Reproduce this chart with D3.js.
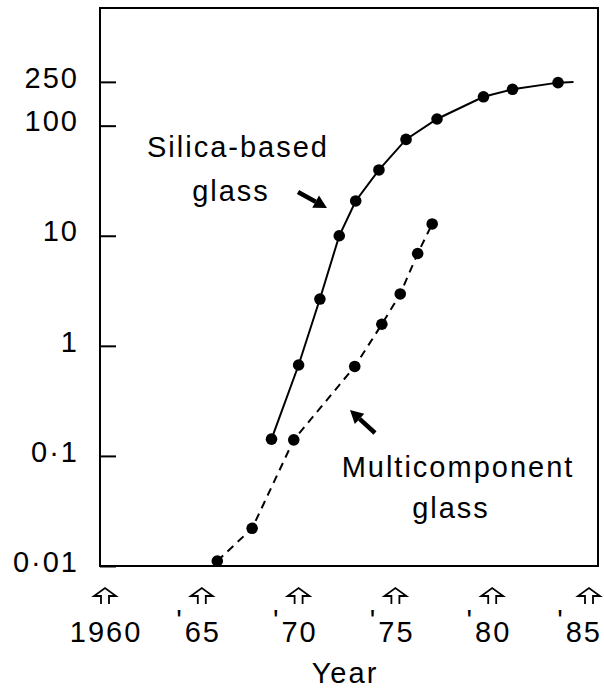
<!DOCTYPE html>
<html>
<head>
<meta charset="utf-8">
<script src="https://cdn.jsdelivr.net/npm/d3@7"></script>
<style>
  body { margin: 0; background: #fff; }
  svg text { font-family: "Liberation Sans", Arial, Helvetica, sans-serif; font-size: 29px; letter-spacing: 2px; fill: #000; }
</style>
</head>
<body>
<svg id="chart" width="604" height="693"></svg>
<script>
// silica-based glass (year, value)
var silicaYears  = [1968.6, 1970.0, 1971.1, 1972.1, 1972.95, 1974.15, 1975.55, 1977.15, 1979.55, 1981.05, 1983.4];
var silicaValues = [0.142, 0.67, 2.66, 10.0, 20.7, 39.6, 75, 115, 183, 214, 246];
var silicaTail   = [1984.2, 249];   // line runs on a little past the last dot

// multicomponent glass
var multiYears  = [1965.8, 1967.6, 1969.75, 1972.9, 1974.3, 1975.25, 1976.15, 1976.9];
var multiValues = [0.0111, 0.022, 0.14, 0.65, 1.57, 2.96, 6.9, 12.8];

var yTicks      = [0.01, 0.1, 1, 10, 100, 250];
var yTickLabels = ["0·01", "0·1", "1", "10", "100", "250"];
var xTicks      = [1960, 1965, 1970, 1975, 1980, 1985];
var xTickLabels = ["1960", "65", "70", "75", "80", "85"];

var svg = d3.select("#chart");

var x = d3.scaleLinear().domain([1960, 1985]).range([105, 589]);
var y = d3.scaleLog().domain([0.01, 1172]).range([566, 8]);

// frame
svg.append("rect")
  .attr("x", 100).attr("y", 8)
  .attr("width", 498).attr("height", 558)
  .attr("fill", "none").attr("stroke", "#000").attr("stroke-width", 2);

// y axis, ticks pointing inward
var yAxis = d3.axisLeft(y)
  .tickValues(yTicks)
  .tickSize(-16)
  .tickPadding(21)
  .tickFormat(function (d, i) { return yTickLabels[i]; });

var gy = svg.append("g")
  .attr("transform", "translate(100,0)")
  .call(yAxis);
gy.select(".domain").remove();
gy.selectAll(".tick line").attr("stroke", "#000").attr("stroke-width", 2);
gy.selectAll(".tick text")
  .attr("dy", "0.18em");
gy.attr("font-size", null).attr("font-family", null);

// x axis: hollow arrows + labels
var xg = svg.append("g").selectAll("g")
  .data(xTicks)
  .enter().append("g")
  .attr("transform", function (d) { return "translate(" + x(d) + ",0)"; });

xg.append("path")
  .attr("d", "M-4,604 L-4,596 L-11,596 L0,588 L11,596 L4,596 L4,604")
  .attr("fill", "none").attr("stroke", "#000").attr("stroke-width", 1.8)
  .attr("stroke-linejoin", "miter");

xg.append("text")
  .attr("y", 642)
  .attr("text-anchor", "middle")
  .attr("dx", 1)
  .text(function (d, i) { return xTickLabels[i]; })
  .each(function (d, i) {
    var t = d3.select(this);
    var w = this.getComputedTextLength();
    // keep the last label inside the picture
    var shift = Math.min(0, 601 - (x(d) + w / 2));
    t.attr("dx", 1 + shift);
    if (i === 0) return;
    d3.select(this.parentNode).append("text")
      .attr("x", -w / 2 + shift - 2)
      .attr("y", 630)
      .attr("text-anchor", "end")
      .attr("font-size", "22px")
      .style("letter-spacing", "0px")
      .text("'");
  });

svg.append("text")
  .attr("x", 345).attr("y", 683)
  .attr("text-anchor", "middle")
  .text("Year");

// lines
var line = d3.line()
  .x(function (d) { return x(d[0]); })
  .y(function (d) { return y(d[1]); });

var silica = silicaYears.map(function (d, i) { return [d, silicaValues[i]]; });
var multi = multiYears.map(function (d, i) { return [d, multiValues[i]]; });

svg.append("path")
  .attr("d", line(silica.concat([silicaTail])))
  .attr("fill", "none").attr("stroke", "#000").attr("stroke-width", 2);

svg.append("path")
  .attr("d", line(multi))
  .attr("fill", "none").attr("stroke", "#000").attr("stroke-width", 2)
  .attr("stroke-dasharray", "8,6");

svg.append("g").selectAll("circle")
  .data(silica.concat(multi))
  .enter().append("circle")
  .attr("cx", function (d) { return x(d[0]); })
  .attr("cy", function (d) { return y(d[1]); })
  .attr("r", 5.8)
  .attr("fill", "#000");

// annotations
svg.append("text").attr("x", 238).attr("y", 157).attr("text-anchor", "middle").text("Silica-based");
svg.append("text").attr("x", 231).attr("y", 201).attr("text-anchor", "middle").text("glass");
svg.append("text").attr("x", 458).attr("y", 477).attr("text-anchor", "middle").text("Multicomponent");
svg.append("text").attr("x", 451).attr("y", 518).attr("text-anchor", "middle").text("glass");

function arrow(x1, y1, x2, y2) {
  var a = Math.atan2(y2 - y1, x2 - x1), len = 13, half = 7;
  var bx = x2 - len * Math.cos(a), by = y2 - len * Math.sin(a);
  svg.append("line")
    .attr("x1", x1).attr("y1", y1).attr("x2", bx).attr("y2", by)
    .attr("stroke", "#000").attr("stroke-width", 4.5);
  svg.append("path")
    .attr("d", "M" + x2 + "," + y2 +
      "L" + (bx + half * Math.sin(a)) + "," + (by - half * Math.cos(a)) +
      "L" + (bx - half * Math.sin(a)) + "," + (by + half * Math.cos(a)) + "Z")
    .attr("fill", "#000");
}
arrow(298, 192, 327, 208);
arrow(375, 433, 350, 410);
</script>
</body>
</html>
